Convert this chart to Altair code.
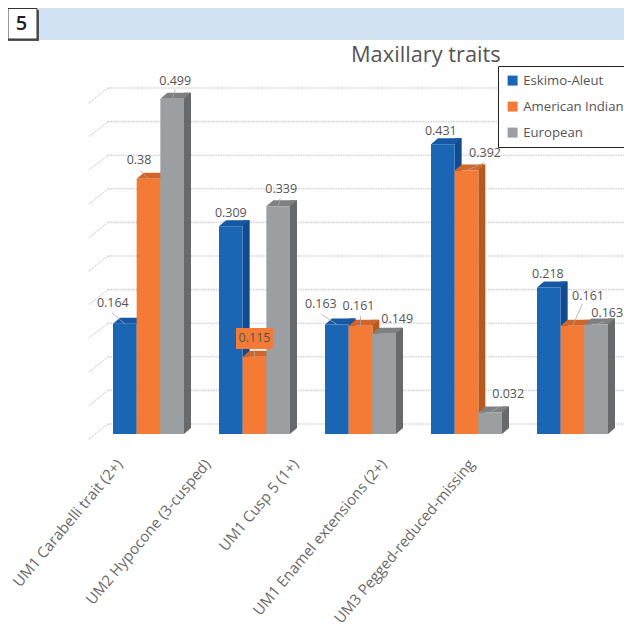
import altair as alt
import pandas as pd

categories = ["UM1 Carabelli trait (2+)", "UM2 Hypocone (3-cusped)", "UM1 Cusp 5 (1+)",
              "UM1 Enamel extensions (2+)", "UM3 Pegged-reduced-missing"]
series = ["Eskimo-Aleut", "American Indian", "European"]
eskimo = [0.164, 0.309, 0.163, 0.431, 0.218]
indian = [0.38, 0.115, 0.161, 0.392, 0.161]
european = [0.499, 0.339, 0.149, 0.032, 0.163]
grid_values = [0, 0.05, 0.1, 0.15, 0.2, 0.25, 0.3, 0.35, 0.4, 0.45, 0.5]

front = ["#1a66b5", "#f47b35", "#9c9fa1"]
top_c = ["#1658a6", "#d2652a", "#7e8081"]
side_c = ["#124a90", "#b5591f", "#67696a"]
TEXT = "#555555"
FONT = "Open Sans"

rows = []
for c, a, b, d in zip(categories, eskimo, indian, european):
    for s, v in zip(series, (a, b, d)):
        rows.append({"cat": c, "series": s, "value": v, "label": str(v)})
table = pd.DataFrame(rows)

# per-label nudges (dx, dy) from the top centre of the bar, leader line start (or None)
nudges = [
    (-12, -21, (-13, -11)), (-9.5, -18.6, (-8, -8)), (3, -18, (3, -9)),
    (0, -13, None), (0, -19, (0, -7)), (3, -17, (2, -8)),
    (-16, -20, (-15, -10)), (-2, -20, (0, -10)), (13, -15, None),
    (-2, -13, None), (18.5, -17.6, (18, -8)), (18, -18.5, (10, -6)),
    (-1, -14, None), (15.5, -30, (10, -22)), (11, -11.5, (8, -3)),
]

W, H = 616, 426
ppu = 672.0
bar_w = 71 / 3
x_enc = alt.X("cat:N", sort=categories, axis=None,
              scale=alt.Scale(domain=categories, range=[105, 600], paddingInner=35 / 106, paddingOuter=0))
xo_enc = alt.XOffset("series:N", scale=alt.Scale(domain=series, paddingInner=0, paddingOuter=0))
y_scale = alt.Scale(domain=[0, H / ppu], nice=False, zero=False)
y_enc = alt.Y("value:Q", axis=None, stack=None, scale=y_scale)

one = alt.Data(values=[{}])
grid_data = alt.Data(values=[{"g": v} for v in grid_values])
gy = alt.Y("g:Q", axis=None, scale=y_scale)

layers = []
# header band and number box
layers.append(alt.Chart(one).mark_rect(color="#d1e3f3").encode(
    x=alt.value(0), x2=alt.value(W), y=alt.value(0), y2=alt.value(32)))
layers.append(alt.Chart(one).mark_rect(color="#555555").encode(
    x=alt.value(0), x2=alt.value(31), y=alt.value(2), y2=alt.value(33)))
layers.append(alt.Chart(one).mark_rect(color="white", stroke="#333333", strokeWidth=1).encode(
    x=alt.value(0), x2=alt.value(29), y=alt.value(0.5), y2=alt.value(31)))
layers.append(alt.Chart(one).mark_text(text="5", font=FONT, fontSize=20, fontWeight=600, color="#222222").encode(
    x=alt.value(13.5), y=alt.value(16)))

# back grid and left wall diagonals
layers.append(alt.Chart(grid_data).mark_rule(color="#d5d5d5", strokeWidth=1.6, strokeDash=[1.5, 1], yOffset=-10).encode(
    x=alt.value(100), x2=alt.value(W), y=gy))
layers.append(alt.Chart(grid_data).mark_rule(color="#d5d5d5", strokeWidth=1.3, strokeDash=[1.5, 1], yOffset=-10, y2Offset=5).encode(
    x=alt.value(100), x2=alt.value(81), y=gy, y2=alt.Y2("g:Q")))

base = alt.Chart(table)
for k, s in enumerate(series):
    b = base.transform_filter(alt.datum.series == s)
    layers.append(b.mark_bar(width=7, xOffset=(k - 1) * bar_w + bar_w / 2 + 3.5, yOffset=-6, y2Offset=-6,
                             color=side_c[k]).encode(
        x=x_enc, y=y_enc, y2=alt.datum(0)))
    # lower triangle of the side face
    layers.append(b.transform_calculate(base="0").mark_point(
        shape="M11.84,0L18.84,-6L11.84,-6Z", size=4, filled=True, opacity=1, color=side_c[k]).encode(
        x=x_enc, xOffset=xo_enc, y=alt.Y("base:Q", axis=None, scale=y_scale)))
    # top face
    layers.append(b.mark_point(shape="M-11.84,0L11.84,0L18.84,-6L-4.84,-6Z", size=4, filled=True, opacity=1, color=top_c[k]).encode(
        x=x_enc, xOffset=xo_enc, y=y_enc))
    # front face
    layers.append(b.mark_bar().encode(
        x=x_enc, xOffset=xo_enc, y=y_enc, y2=alt.datum(0),
        color=alt.Color("series:N", scale=alt.Scale(domain=series, range=front),
                        legend=alt.Legend(orient="none", legendX=490, legendY=58, title=None,
                                          symbolType="square", symbolSize=100, labelFontSize=13.2,
                                          labelFont=FONT, labelColor=TEXT, rowPadding=12,
                                          strokeColor="#222222", fillColor="white", padding=8,
                                          labelLimit=300, symbolStrokeWidth=0))))

# highlighted label background
layers.append(base.transform_filter(alt.datum.value == 0.115).mark_point(
    shape="M-18.5,-28.7L18.5,-28.7L18.5,-7.7L-18.5,-7.7Z", size=4, filled=True, opacity=1, color="#f47b35").encode(
    x=x_enc, xOffset=xo_enc, y=y_enc))

for i, row in enumerate(rows):
    dx, dy, lead = nudges[i]
    b = base.transform_filter((alt.datum.series == row["series"]) & (alt.datum.cat == row["cat"]))
    if lead:
        layers.append(b.mark_point(shape=f"M{lead[0]},{lead[1]}L0,0", size=4, filled=False, opacity=1,
                                   stroke="#aaaaaa", strokeWidth=0.8).encode(x=x_enc, xOffset=xo_enc, y=y_enc))
    layers.append(b.mark_text(dx=dx, dy=dy, font=FONT, fontSize=12.5, color=TEXT).encode(
        x=x_enc, xOffset=xo_enc, y=y_enc, text="label:N"))

bars = alt.layer(*layers)

# category axis: its labels are spaced more tightly than the bar groups
axis_layer = alt.Chart(pd.DataFrame({"cat": categories})).mark_point(opacity=0).encode(
    x=alt.X("cat:N", sort=categories, title=None,
            scale=alt.Scale(domain=categories, range=[67, 507], paddingInner=0, paddingOuter=0),
            axis=alt.Axis(orient="bottom", labelAngle=-50, labelAlign="right", labelBaseline="middle",
                          labelPadding=27, labelFontSize=15, labelFont=FONT, labelColor="#6a6a6a",
                          labelLimit=400, domain=False, ticks=False, grid=False, labelOverlap=False)))

chart = alt.layer(bars, axis_layer).resolve_scale(x="independent").properties(
    width=W, height=H,
    padding={"left": 0, "top": 0, "right": 0, "bottom": 195},
    autosize=alt.AutoSizeParams(type="none"),
    title=alt.TitleParams("Maxillary traits", anchor="start", frame="group", dx=343, offset=-58.5,
                          font=FONT, fontSize=21.8, fontWeight="normal", color="#555555"),
).configure_view(stroke=None)

chart.save("out.html", embed_options={"renderer": "svg", "actions": False})
